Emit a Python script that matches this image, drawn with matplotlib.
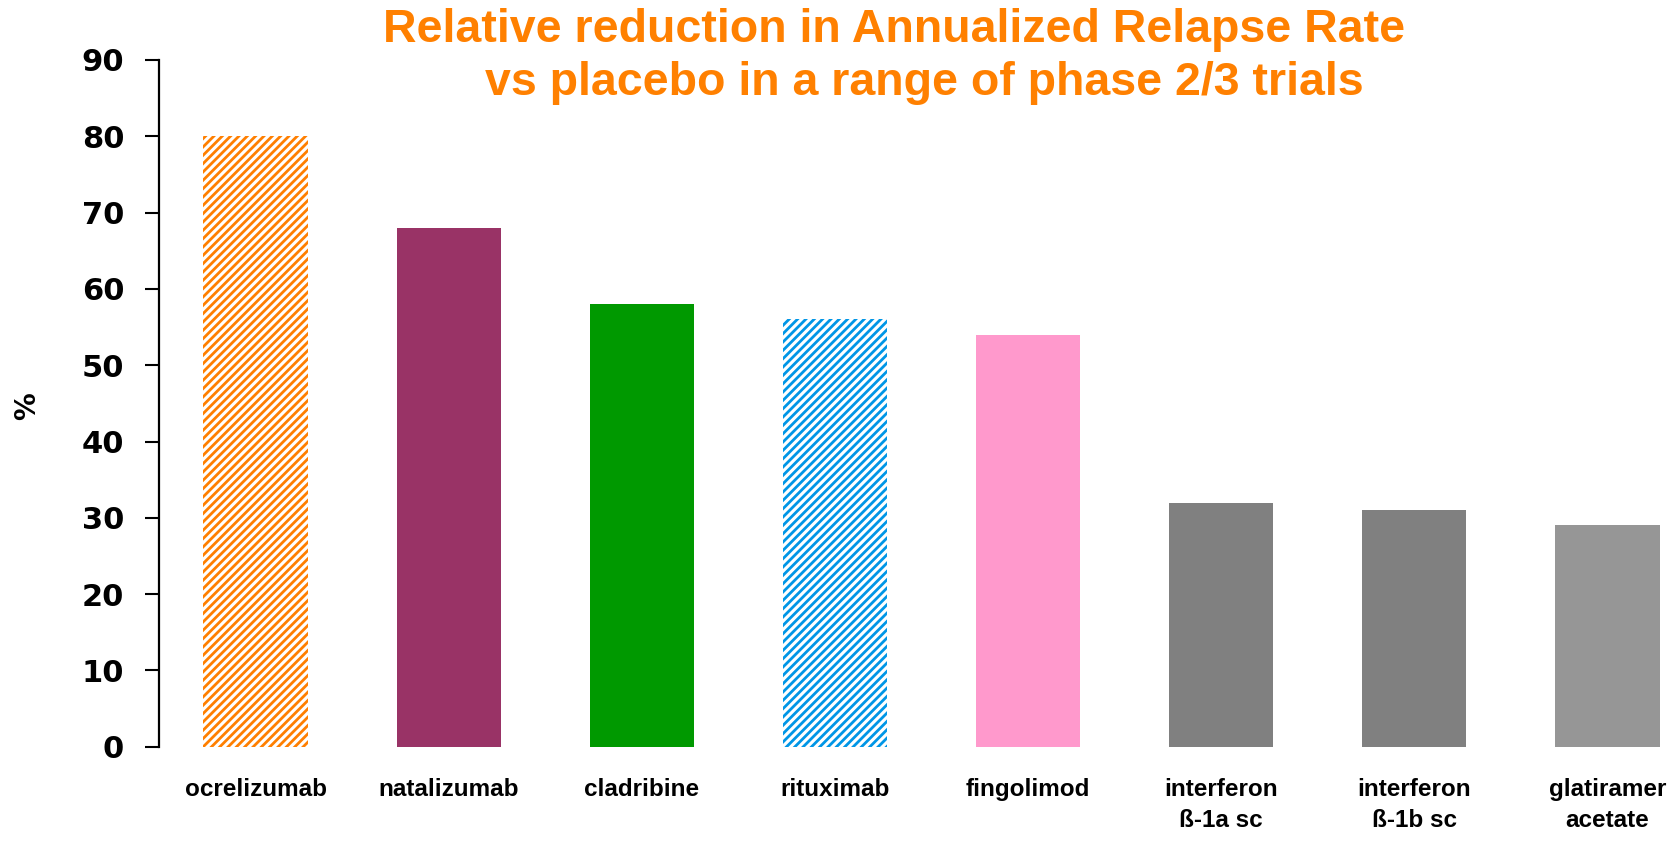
import matplotlib
matplotlib.use("Agg")
import matplotlib.pyplot as plt

drugs = ["ocrelizumab", "natalizumab", "cladribine", "rituximab", "fingolimod",
         "interferon\nß-1a sc", "interferon\nß-1b sc", "glatiramer\nacetate"]
reduction = [80, 68, 58, 56, 54, 32, 31, 29]
colors = ["#ff7f00", "#993366", "#009900", "#0096e6", "#ff99cc",
          "#808080", "#808080", "#969696"]
hatched = [True, False, False, True, False, False, False, False]
yticks = [0, 10, 20, 30, 40, 50, 60, 70, 80, 90]

narrow = ["Liberation Sans", "DejaVu Sans"]

plt.rcParams["hatch.linewidth"] = 2.0

fig = plt.figure(figsize=(16.75, 8.41), dpi=100)
ax = fig.add_axes([0.0949, 0.112, 0.9051, 0.8167])

for i in range(len(drugs)):
    if hatched[i]:
        ax.bar(i, reduction[i], width=0.54, color="white", edgecolor=colors[i],
               hatch="////", linewidth=0)
    else:
        ax.bar(i, reduction[i], width=0.54, color=colors[i], linewidth=0)

ax.set_xlim(-0.5, 7.35)
ax.set_ylim(0, 90)
ax.set_yticks(yticks)
ax.set_xticks([])
for s in ["top", "right", "bottom"]:
    ax.spines[s].set_visible(False)
ax.spines["left"].set_linewidth(1.6)
ax.tick_params(axis="y", length=10, width=1.5, pad=15, labelsize=22)
for t in ax.get_yticklabels():
    t.set_fontweight("bold")

for i, d in enumerate(drugs):
    ax.text(i, -4.1, d, ha="center", va="top", fontsize=17.5, fontweight="bold",
            family=narrow, linespacing=1.45)

fig.text(0.016, 0.517, "%", rotation=90, ha="center", va="center",
         fontsize=20, fontweight="bold")

fig.text(0.534, 0.964, "Relative reduction in Annualized Relapse Rate",
         ha="center", va="center", fontsize=33.5, fontweight="bold",
         color="#ff8000", family=narrow)
fig.text(0.552, 0.901, "vs placebo in a range of phase 2/3 trials",
         ha="center", va="center", fontsize=33.5, fontweight="bold",
         color="#ff8000", family=narrow)

fig.savefig("out.png", dpi=100)
